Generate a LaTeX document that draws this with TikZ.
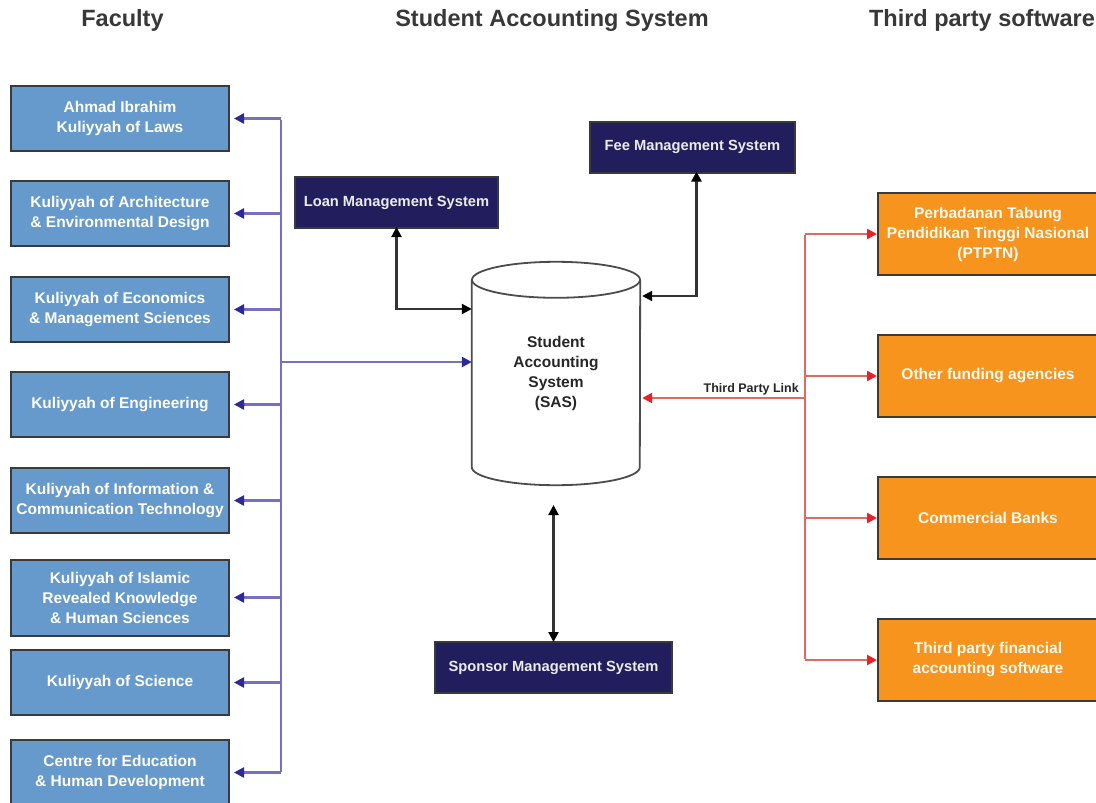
\documentclass[tikz,border=0pt]{standalone}
\usepackage{fontspec}
\setmainfont{Liberation Sans}
\usetikzlibrary{arrows.meta,calc}
\definecolor{fblue}{HTML}{6699CC}
\definecolor{fnavy}{HTML}{221E5E}
\definecolor{forange}{HTML}{F7941E}
\definecolor{bline}{HTML}{7770BC}
\definecolor{btip}{HTML}{2A2A9A}
\definecolor{rline}{HTML}{E06A5E}
\definecolor{rtip}{HTML}{E8202A}
\definecolor{bord}{HTML}{3A3A3A}
\tikzset{
  head/.style={font=\fontsize{23.5}{26}\selectfont\bfseries, text=black!78},
  facbox/.style={draw=bord, line width=2pt, fill=fblue, text=white, align=center,
    minimum width=218pt, minimum height=65pt, inner sep=0pt,
    font=\fontsize{15.5}{20}\selectfont\bfseries},
  sysbox/.style={draw=bord, line width=2pt, fill=fnavy, text=white!92!black, align=center,
    minimum height=51pt, inner sep=0pt, font=\fontsize{14.7}{20}\selectfont\bfseries},
  orbox/.style={draw=bord, line width=2pt, fill=forange, text=white!95!orange, align=center,
    minimum width=220pt, minimum height=82pt, inner sep=0pt,
    font=\fontsize{15.5}{20}\selectfont\bfseries},
  tip/.style={Triangle[length=10pt,width=10pt,#1]},
  bluearrow/.style={draw=bline, line width=2.4pt, -{Triangle[length=10pt,width=10pt,color=btip]}},
  blueline/.style={draw=bline, line width=2.4pt},
  redarrow/.style={draw=rline, line width=2.4pt, -{Triangle[length=10pt,width=10pt,color=rtip]}},
  redline/.style={draw=rline, line width=2.4pt},
  blkarrow/.style={draw=black!80, line width=2.2pt, {Triangle[length=10pt,width=10pt,color=black]}-{Triangle[length=10pt,width=10pt,color=black]}},
  cyl/.style={draw=black!70, line width=1.8pt},
}
\begin{document}
\begin{tikzpicture}[x=1pt,y=-1pt]
\useasboundingbox (0,0) rectangle (1096,803);
\fill[white] (0,0) rectangle (1096,803);
% headers
\node[head] (h1) at (122.5,20) {Faculty};
\node[head] (h2) at (552,20) {Student Accounting System};
\node[head] (h3) at (982,20) {Third party software};
% faculty boxes
\node[facbox] (f1) at (120,118.5) {Ahmad Ibrahim\\Kuliyyah of Laws};
\node[facbox] (f2) at (120,213.5) {Kuliyyah of Architecture\\\& Environmental Design};
\node[facbox] (f3) at (120,309.5) {Kuliyyah of Economics\\\& Management Sciences};
\node[facbox] (f4) at (120,404.5) {Kuliyyah of Engineering};
\node[facbox] (f5) at (120,500.5) {Kuliyyah of Information \&\\Communication Technology};
\node[facbox, minimum height=76pt] (f6) at (120,597.5) {Kuliyyah of Islamic\\Revealed Knowledge\\\& Human Sciences};
\node[facbox] (f7) at (120,682.5) {Kuliyyah of Science};
\node[facbox] (f8) at (120,772.5) {Centre for Education\\\& Human Development};
% systems
\node[sysbox, minimum width=203pt] (loan) at (396.5,202.5) {Loan Management System};
\node[sysbox, minimum width=205pt] (fee) at (692.5,147) {Fee Management System};
\node[sysbox, minimum width=237pt] (spons) at (553.5,667.5) {Sponsor Management System};
% cylinder
\node[minimum width=168pt, minimum height=187pt, inner sep=0pt, align=center,
  font=\fontsize{15.5}{20}\selectfont\bfseries, text=black!85] (sas) at (556,373.5)
  {Student\\Accounting\\System\\(SAS)};
\draw[cyl] (sas.north west) -- (sas.south west)
  arc[start angle=180,end angle=360,x radius=84pt,y radius=18pt] -- (sas.north east);
\draw[cyl] (sas.north) ellipse[x radius=84pt,y radius=18pt];
% orange boxes
\node[orbox] (o1) at (988,234) {Perbadanan Tabung\\Pendidikan Tinggi Nasional\\(PTPTN)};
\node[orbox] (o2) at (988,376) {Other funding agencies};
\node[orbox] (o3) at (988,518) {Commercial Banks};
\node[orbox] (o4) at (988,660) {Third party financial\\accounting software};
% blue bus
\coordinate (bus) at (281,0);
\draw[blueline] ([yshift=-1pt]f1.east -| bus) -- ([yshift=1pt]f8.east -| bus);
\foreach \f in {f1,f2,f3,f4,f5,f6,f7,f8}
  \draw[bluearrow] (\f.east -| bus) -- ([xshift=4pt]\f.east);
\draw[bluearrow] (bus |- 0,362) -- (sas.west |- 0,362);
% black links
\draw[blkarrow] ([yshift=2pt]loan.south) |- (sas.west |- 0,309);
\draw[blkarrow] ([xshift=4pt,yshift=2pt]fee.south) |- ([xshift=2pt]sas.east |- 0,296);
\coordinate (spt) at (553.5,505);
\draw[blkarrow] (spt) -- ([yshift=-1pt]spons.north);
% red bus
\coordinate (rbus) at (805,0);
\draw[redline] ([yshift=-1pt]o1.west -| rbus) -- ([yshift=1pt]o4.west -| rbus);
\foreach \o in {o1,o2,o3,o4}
  \draw[redarrow] (\o.west -| rbus) -- (\o.west);
\draw[redarrow] (rbus |- 0,398) -- ([xshift=2pt]sas.east |- 0,398)
  node[pos=0, anchor=south east, xshift=-4pt, yshift=1pt, inner sep=1pt,
       font=\fontsize{12.5}{14}\selectfont\bfseries, text=black!85] (tpl) {Third Party Link};
\end{tikzpicture}
\end{document}
